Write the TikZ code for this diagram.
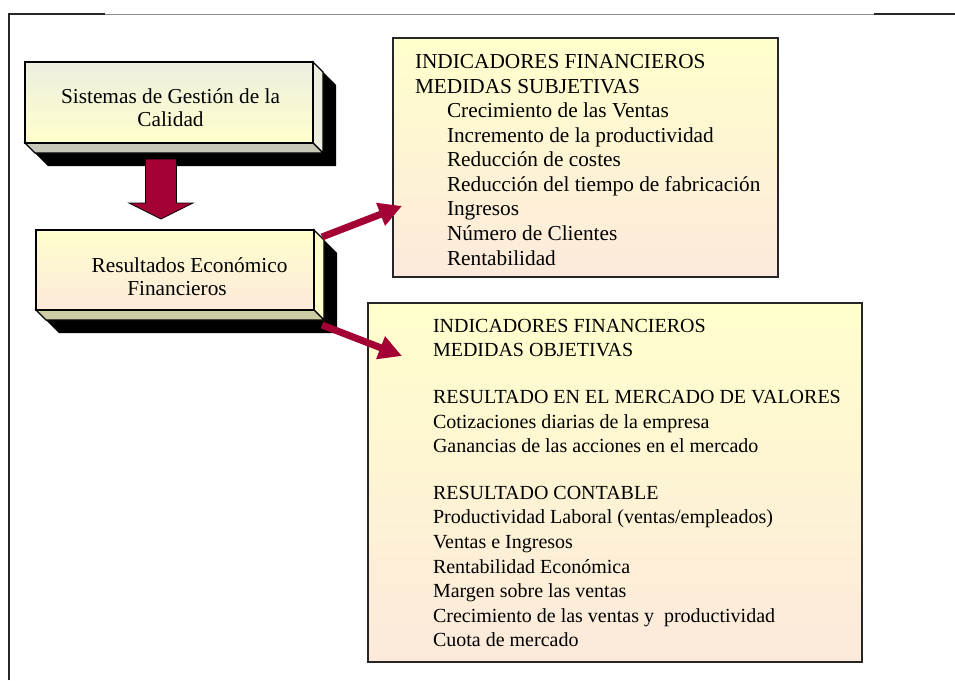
\documentclass[tikz,border=0pt]{standalone}
\usepackage{fontspec}
\setmainfont{Liberation Serif}
\usetikzlibrary{calc,arrows.meta,backgrounds}

\definecolor{claret}{RGB}{163,0,51}
\definecolor{paleyellow}{RGB}{255,255,204}
\definecolor{palepeach}{RGB}{252,233,219}
\definecolor{palegray}{RGB}{238,238,224}
\definecolor{bevelgray}{RGB}{200,200,184}
\definecolor{bevelolive}{RGB}{204,204,164}
\tikzstyle{every node}=[inner sep=0pt, outer sep=0pt]

\begin{document}
\begin{tikzpicture}[x=1pt, y=-1pt,
    block/.style={%
        draw=black, line width=1.6pt,
        top color=paleyellow, bottom color=palepeach},
    panel/.style={%
        draw=black!85, line width=1.6pt,
        top color=paleyellow, bottom color=palepeach},
    blocktext/.style={%
        align=center,
        font=\fontsize{21.3}{23}\selectfont},
    listing/.style={%
        anchor=north west, align=left},
    downarrow/.style={%
        draw=black, line width=0.8pt, fill=claret},
    link/.style={%
        draw=claret, line width=7pt,
        -{Triangle[length=23pt,width=23pt]}},
]
\useasboundingbox (0,0) rectangle (955,680);

% Frame
\draw[black!85, line width=1.5pt] (9,680) -- (9,14) -- (105,14);
\draw[black!45, line width=0.8pt] (105,14) -- (874,14);
\draw[black!85, line width=1.5pt] (874,14) -- (955,14);

% Raised blocks
\node[block, top color=palegray, bottom color=paleyellow,
      minimum width=288pt, minimum height=81pt] (sgc) at (169,102.5) {};
\node[block, minimum width=278pt, minimum height=80pt] (ref) at (175,270) {};

% Shadows and bevels
\begin{scope}[on background layer]
\foreach \b/\face/\base in {sgc/palegray/bevelgray, ref/paleyellow/bevelolive}{
    \fill[black] (\b.north east) -- ($(\b.north east)+(23,23)$) -- ($(\b.south east)+(23,23)$)
        -- ($(\b.south west)+(23,23)$) -- (\b.south west) -- cycle;
    \filldraw[draw=black, line width=1.2pt, fill=\face] (\b.north east) -- ($(\b.north east)+(10,10)$)
        -- ($(\b.south east)+(10,10)$) -- (\b.south east) -- cycle;
    \filldraw[draw=black, line width=1.2pt, fill=\base] (\b.south west) -- (\b.south east)
        -- ($(\b.south east)+(10,10)$) -- ($(\b.south west)+(10,10)$) -- cycle;
}
\end{scope}

\node[blocktext] (sgctxt) at ([xshift=1.5pt,yshift=-5pt]sgc.center) {Sistemas de Gestión de la\\Calidad};
\node[blocktext] (reftxt) at ([xshift=2pt,yshift=-7pt]ref.center) {\hspace*{25pt}Resultados Económico\\Financieros};

% Down arrow
\coordinate (dntop) at ($(sgc.south)+(-8,16)$);
\draw[downarrow] ($(dntop)+(-15.5,0)$) -- ++(31,0) -- ++(0,44) -- ++(16.5,0)
    -- ($(dntop)+(0,60)$) -- ($(dntop)+(-32,44)$) -- ++(16.5,0) -- cycle;

% Indicator panels
\node[panel, minimum width=385pt, minimum height=239pt] (subj) at (585.5,157.5) {};
\node[panel, minimum width=494pt, minimum height=359pt] (obj) at (615,482.5) {};

\node[listing, font=\fontsize{21.3}{24.55}\selectfont] (subjtxt)
    at ([xshift=22pt,yshift=-16.5pt]subj.north west) {%
    INDICADORES FINANCIEROS\\
    MEDIDAS SUBJETIVAS\\
    \hspace*{32pt}Crecimiento de las Ventas\\
    \hspace*{32pt}Incremento de la productividad\\
    \hspace*{32pt}Reducción de costes\\
    \hspace*{32pt}Reducción del tiempo de fabricación\\
    \hspace*{32pt}Ingresos\\
    \hspace*{32pt}Número de Clientes\\
    \hspace*{32pt}Rentabilidad};

\node[listing, font=\fontsize{20}{24.6}\selectfont] (objtxt)
    at ([xshift=65pt,yshift=-16pt]obj.north west) {%
    INDICADORES FINANCIEROS\\
    MEDIDAS OBJETIVAS\\[22pt]
    RESULTADO EN EL MERCADO DE VALORES\\
    Cotizaciones diarias de la empresa\\
    Ganancias de las acciones en el mercado\\[22pt]
    RESULTADO CONTABLE\\
    Productividad Laboral (ventas/empleados)\\
    Ventas e Ingresos\\
    Rentabilidad Económica\\
    Margen sobre las ventas\\
    Crecimiento de las ventas y~ productividad\\
    Cuota de mercado};

% Links
\draw[link] ($(ref.north east)+(8,7)$) -- ($(subj.north west)+(9,168)$);
\draw[link] ($(ref.south east)+(8,15)$) -- ($(obj.north west)+(34,53)$);
\end{tikzpicture}
\end{document}
